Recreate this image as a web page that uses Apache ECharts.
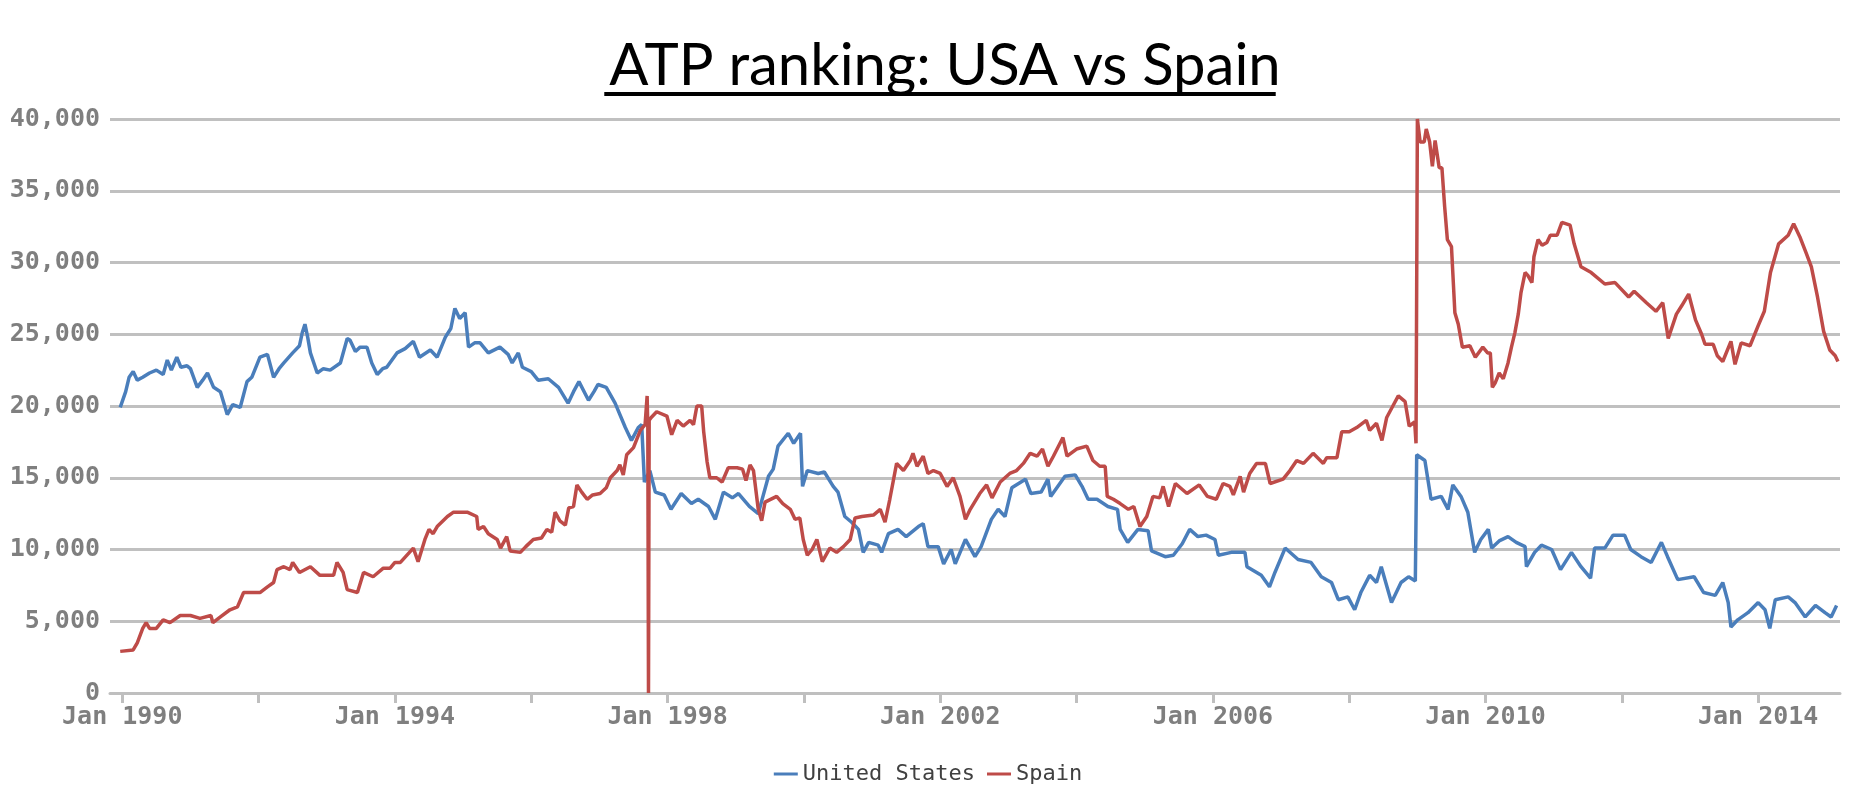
<!DOCTYPE html>
<html>
<head>
<meta charset="utf-8">
<script src="https://cdn.jsdelivr.net/npm/echarts@6/dist/echarts.min.js"></script>
<style>html,body{margin:0;padding:0;background:#fff}#c{width:1856px;height:796px}</style>
</head>
<body>
<div id="c"></div>
<script>
const titleText = 'ATP ranking: USA vs Spain';
const seriesNames = ['United States', 'Spain'];
const tickYears = [1990,1992,1994,1996,1998,2000,2002,2004,2006,2008,2010,2012,2014];
const labelYears = [1990,1994,1998,2002,2006,2010,2014];
const yTicks = [0,5000,10000,15000,20000,25000,30000,35000,40000];

const usYears = [1989.97,1990.05,1990.1,1990.16,1990.22,1990.3,1990.4,1990.5,1990.6,1990.66,1990.72,1990.8,1990.86,1990.95,1991.0,1991.1,1991.18,1991.25,1991.34,1991.44,1991.54,1991.62,1991.73,1991.83,1991.9,1992.02,1992.13,1992.22,1992.3,1992.37,1992.5,1992.6,1992.64,1992.68,1992.72,1992.76,1992.86,1992.95,1993.05,1993.2,1993.3,1993.34,1993.42,1993.49,1993.59,1993.66,1993.74,1993.82,1993.88,1994.03,1994.15,1994.27,1994.36,1994.52,1994.62,1994.74,1994.82,1994.88,1994.95,1995.03,1995.08,1995.17,1995.25,1995.37,1995.54,1995.66,1995.72,1995.81,1995.87,1996.0,1996.1,1996.25,1996.4,1996.54,1996.62,1996.7,1996.84,1996.92,1996.98,1997.1,1997.23,1997.38,1997.47,1997.57,1997.62,1997.66,1997.74,1997.82,1997.95,1998.05,1998.2,1998.35,1998.45,1998.6,1998.7,1998.82,1998.95,1999.04,1999.2,1999.33,1999.48,1999.55,1999.62,1999.77,1999.85,1999.95,1999.98,2000.05,2000.21,2000.3,2000.43,2000.5,2000.6,2000.7,2000.8,2000.87,2000.95,2001.09,2001.14,2001.24,2001.38,2001.5,2001.68,2001.75,2001.82,2001.97,2002.05,2002.16,2002.22,2002.37,2002.51,2002.6,2002.75,2002.85,2002.95,2003.05,2003.25,2003.33,2003.48,2003.58,2003.62,2003.83,2003.98,2004.08,2004.17,2004.3,2004.46,2004.6,2004.64,2004.75,2004.9,2005.05,2005.1,2005.3,2005.42,2005.55,2005.66,2005.78,2005.9,2006.03,2006.08,2006.27,2006.47,2006.5,2006.71,2006.83,2006.91,2007.06,2007.25,2007.44,2007.59,2007.74,2007.84,2007.98,2008.08,2008.17,2008.3,2008.4,2008.47,2008.62,2008.76,2008.87,2008.97,2008.99,2009.11,2009.2,2009.35,2009.45,2009.52,2009.64,2009.74,2009.84,2009.93,2010.04,2010.09,2010.2,2010.33,2010.45,2010.58,2010.6,2010.72,2010.82,2010.97,2011.1,2011.26,2011.4,2011.54,2011.6,2011.75,2011.87,2012.04,2012.13,2012.28,2012.43,2012.58,2012.67,2012.82,2013.06,2013.2,2013.37,2013.48,2013.56,2013.6,2013.7,2013.85,2014.0,2014.1,2014.17,2014.25,2014.44,2014.54,2014.69,2014.84,2014.98,2015.07,2015.15];
const usValues = [19900,21000,22000,22400,21800,22000,22300,22500,22200,23200,22500,23400,22700,22800,22600,21300,21800,22300,21300,21000,19400,20100,19900,21700,22000,23400,23600,22000,22600,23000,23700,24200,25100,25700,24800,23700,22300,22600,22500,23000,24700,24600,23800,24100,24100,23000,22200,22600,22700,23700,24000,24500,23400,23900,23400,24800,25400,26800,26100,26500,24100,24400,24400,23700,24100,23600,23000,23700,22700,22400,21800,21900,21300,20200,21000,21700,20400,21000,21500,21300,20200,18500,17600,18500,18700,14700,15500,14000,13800,12800,13900,13200,13500,13000,12100,14000,13600,13900,13000,12500,15100,15600,17200,18100,17400,18100,14400,15500,15300,15400,14400,14000,12300,11900,11400,9800,10500,10300,9800,11100,11400,10900,11600,11800,10200,10200,9000,10000,9000,10700,9500,10200,12100,12800,12300,14300,14900,13900,14000,14900,13700,15100,15200,14400,13500,13500,13000,12800,11400,10500,11400,11300,9900,9500,9600,10400,11400,10900,11000,10700,9600,9800,9800,8800,8200,7400,8400,10100,9300,9100,8100,7700,6500,6700,5800,7000,8200,7700,8800,6300,7700,8100,7800,16600,16200,13500,13700,12800,14500,13700,12600,9800,10700,11400,10100,10600,10900,10500,10200,8800,9800,10300,10000,8600,9800,8800,8000,10100,10100,11000,11000,10000,9500,9100,10500,9500,7900,8100,7000,6800,7700,6300,4600,5100,5600,6300,5800,4500,6500,6700,6300,5300,6100,5600,5300,6100];

const esYears = [1989.97,1990.16,1990.22,1990.3,1990.35,1990.4,1990.5,1990.6,1990.7,1990.85,1991.0,1991.14,1991.3,1991.33,1991.44,1991.58,1991.69,1991.78,1992.02,1992.13,1992.22,1992.27,1992.37,1992.46,1992.5,1992.6,1992.76,1992.9,1993.1,1993.15,1993.24,1993.3,1993.45,1993.54,1993.68,1993.83,1993.93,1994.0,1994.08,1994.27,1994.34,1994.44,1994.5,1994.56,1994.62,1994.77,1994.86,1995.06,1995.2,1995.22,1995.3,1995.37,1995.5,1995.55,1995.64,1995.69,1995.84,1995.92,1996.03,1996.15,1996.23,1996.3,1996.35,1996.42,1996.5,1996.55,1996.62,1996.67,1996.74,1996.82,1996.9,1997.01,1997.1,1997.16,1997.26,1997.3,1997.35,1997.4,1997.5,1997.6,1997.67,1997.7,1997.71,1997.72,1997.73,1997.76,1997.84,1997.99,1998.06,1998.14,1998.23,1998.33,1998.38,1998.43,1998.5,1998.53,1998.58,1998.62,1998.72,1998.8,1998.89,1999.02,1999.1,1999.15,1999.21,1999.26,1999.33,1999.38,1999.43,1999.6,1999.69,1999.8,1999.87,1999.94,1999.99,2000.05,2000.12,2000.19,2000.27,2000.38,2000.48,2000.58,2000.68,2000.75,2000.85,2001.02,2001.12,2001.19,2001.26,2001.36,2001.46,2001.56,2001.6,2001.66,2001.75,2001.82,2001.9,2002.0,2002.1,2002.19,2002.29,2002.37,2002.44,2002.58,2002.68,2002.76,2002.88,2003.02,2003.12,2003.22,2003.32,2003.42,2003.5,2003.58,2003.66,2003.8,2003.86,2004.0,2004.15,2004.24,2004.34,2004.42,2004.45,2004.54,2004.64,2004.76,2004.84,2004.93,2005.03,2005.12,2005.22,2005.27,2005.35,2005.45,2005.62,2005.8,2005.92,2006.05,2006.15,2006.25,2006.3,2006.4,2006.45,2006.54,2006.64,2006.77,2006.84,2007.03,2007.13,2007.23,2007.33,2007.47,2007.62,2007.67,2007.82,2007.89,2008.0,2008.11,2008.25,2008.3,2008.4,2008.48,2008.55,2008.64,2008.72,2008.82,2008.88,2008.96,2008.98,2009.0,2009.04,2009.1,2009.13,2009.18,2009.22,2009.26,2009.32,2009.36,2009.4,2009.44,2009.5,2009.55,2009.6,2009.66,2009.77,2009.85,2009.96,2010.03,2010.07,2010.1,2010.14,2010.2,2010.26,2010.33,2010.38,2010.43,2010.48,2010.52,2010.58,2010.62,2010.68,2010.71,2010.77,2010.83,2010.9,2010.95,2011.05,2011.12,2011.24,2011.3,2011.4,2011.55,2011.75,2011.9,2012.1,2012.18,2012.36,2012.5,2012.6,2012.68,2012.8,2012.88,2012.98,2013.08,2013.17,2013.22,2013.34,2013.4,2013.48,2013.6,2013.66,2013.75,2013.88,2014.0,2014.09,2014.18,2014.3,2014.44,2014.52,2014.61,2014.7,2014.78,2014.87,2014.96,2015.05,2015.13,2015.17];
const esValues = [2900,3000,3500,4500,4900,4500,4500,5100,4900,5400,5400,5200,5400,4900,5300,5800,6000,7000,7000,7400,7700,8600,8800,8600,9100,8400,8800,8200,8200,9100,8400,7200,7000,8400,8100,8700,8700,9100,9100,10100,9150,10700,11400,11100,11600,12300,12600,12600,12300,11400,11600,11100,10700,10100,10900,9900,9800,10200,10700,10800,11400,11200,12600,12000,11700,12900,13000,14500,14000,13500,13800,13900,14300,15000,15500,15900,15200,16600,17100,18300,18700,20700,18500,0,19000,19200,19600,19300,18000,19000,18600,19000,18700,20000,20000,18200,16100,15000,15000,14700,15700,15700,15600,14800,15900,15500,12800,12000,13300,13700,13200,12800,12100,12200,10700,9600,10000,10700,9150,10100,9800,10200,10700,12200,12300,12400,12800,11900,13500,16000,15500,16200,16700,15800,16500,15300,15500,15300,14400,15000,13700,12100,12800,13900,14500,13600,14700,15300,15500,16000,16700,16500,17000,15800,16500,17800,16500,17000,17200,16200,15800,15800,13700,13500,13200,12800,13000,11600,12300,13700,13600,14400,13000,14600,13900,14500,13700,13500,14600,14400,13800,15100,14000,15300,16000,16000,14600,14900,15500,16200,16000,16700,16000,16400,16400,18200,18200,18500,19000,18300,18800,17600,19200,20000,20700,20300,18600,18900,17400,40000,38400,38400,39300,38400,36700,38500,36600,36600,33900,31600,31100,26500,25700,24100,24200,23400,24100,23700,23700,21300,21600,22300,21900,23000,24100,25100,26400,27900,29300,29100,28600,30400,31600,31200,31400,31900,31900,32800,32600,31300,29700,29300,28500,28600,27600,28000,27200,26600,27200,24700,26400,27000,27800,26000,25000,24300,24300,23500,23100,24500,22900,24400,24200,25600,26600,29300,31300,31900,32700,31800,30700,29700,27600,25200,23900,23500,23100];

const zip = (xs, ys) => xs.map((x, i) => [x, ys[i]]);
const fmtNum = v => String(v).replace(/\B(?=(\d{3})+(?!\d))/g, ',');

const titleFont = '58px Lato';
const mctx = document.createElement('canvas').getContext('2d');
mctx.font = titleFont;
const titleW = mctx.measureText(titleText).width;
const titleCX = 940;

const chart = echarts.init(document.getElementById('c'), null, {renderer: 'canvas'});
chart.setOption({
  backgroundColor: '#ffffff',
  animation: false,
  title: {
    text: titleText,
    left: titleCX, textAlign: 'center', top: 32,
    textStyle: {fontFamily: 'Lato', fontSize: 58, fontWeight: 'normal', color: '#000'}
  },
  graphic: [{
    type: 'rect', left: titleCX - titleW / 2, top: 92,
    shape: {width: titleW, height: 4}, style: {fill: '#000'}
  }],
  legend: {
    data: seriesNames, left: 'center', top: 758,
    icon: 'rect', itemWidth: 24, itemHeight: 3, itemGap: 12,
    textStyle: {fontFamily: 'DejaVu Sans Mono', fontSize: 22, color: '#404040'}
  },
  grid: {left: 110, right: 16, top: 119, bottom: 103},
  xAxis: {
    type: 'value', min: 1989.82, max: 2015.2,
    axisLine: {show: true, lineStyle: {color: '#bfbfbf', width: 3}},
    axisTick: {show: true, customValues: tickYears, length: 10, lineStyle: {color: '#bfbfbf', width: 3}},
    axisLabel: {
      customValues: labelYears, margin: 12,
      formatter: v => 'Jan ' + Math.round(v),
      fontFamily: 'DejaVu Sans Mono', fontSize: 25, fontWeight: 'bold', color: '#7f7f7f'
    },
    splitLine: {show: false}
  },
  yAxis: {
    type: 'value', min: 0, max: 40000, interval: 5000,
    axisLine: {show: false}, axisTick: {show: false},
    axisLabel: {
      formatter: fmtNum, margin: 10,
      fontFamily: 'DejaVu Sans Mono', fontSize: 25, fontWeight: 'bold', color: '#7f7f7f'
    },
    splitLine: {lineStyle: {color: '#c0c0c0', width: 3}}
  },
  series: [
    {name: seriesNames[0], type: 'line', data: zip(usYears, usValues), showSymbol: false, symbol: 'none',
     lineStyle: {color: '#4a7ebb', width: 3.5}, itemStyle: {color: '#4a7ebb'}, z: 2},
    {name: seriesNames[1], type: 'line', data: zip(esYears, esValues), showSymbol: false, symbol: 'none',
     lineStyle: {color: '#be4b48', width: 3.5}, itemStyle: {color: '#be4b48'}, z: 3}
  ]
});
</script>
</body>
</html>
